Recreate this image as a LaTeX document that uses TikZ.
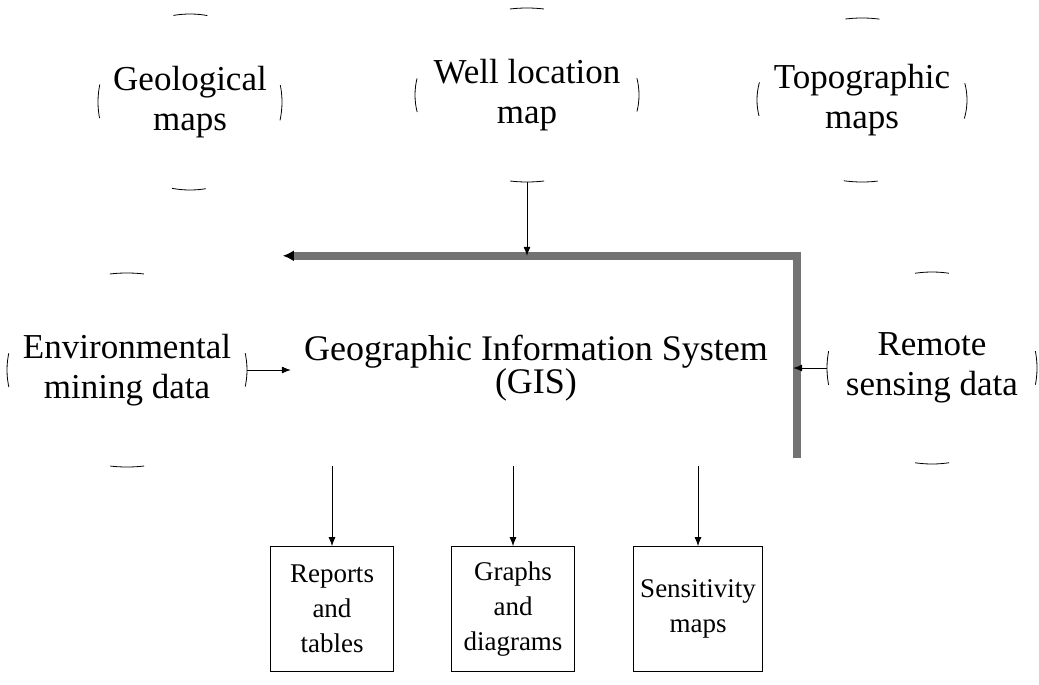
\documentclass[tikz,border=0pt]{standalone}
\usepackage{fontspec}
\setmainfont{Liberation Serif}
\usetikzlibrary{shapes.geometric,arrows.meta}

\tikzset{
    blob/.style={ellipse, draw, line width=0.8pt, align=center, inner xsep=-30pt, inner ysep=0pt, dash phase=17pt, font=\fontsize{35}{40}\selectfont},
    outbox/.style={rectangle, draw, line width=0.8pt, align=center, inner sep=2pt, minimum height=125pt, font=\fontsize{27}{35}\selectfont},
    frame/.style={draw=black!55, line width=8pt},
    feed/.style={-{Latex[length=9pt,width=7pt]}, line width=0.8pt},
}

\begin{document}
\begin{tikzpicture}[x=1pt,y=-1pt]
    \useasboundingbox (0,0) rectangle (1039,685);
    % sources
    \node[blob, minimum width=184pt, minimum height=176pt, dash pattern=on 34pt off 107pt] (geo) at (190,102) {Geological\\maps};
    \node[blob, minimum width=224pt, minimum height=174pt, dash pattern=on 34pt off 123pt] (well) at (527,95) {Well location\\map};
    \node[blob, minimum width=210pt, minimum height=164pt, dash pattern=on 34pt off 113pt] (topo) at (862,100) {Topographic\\maps};
    \node[blob, minimum width=240pt, minimum height=194pt, dash pattern=on 34pt off 137pt] (env) at (127,370) {Environmental\\mining data};
    \node[blob, minimum width=210pt, minimum height=192pt, dash pattern=on 34pt off 124pt] (rem) at (932,368) {Remote\\sensing data};
    % the GIS in the middle
    \node[minimum width=514pt, minimum height=202pt, inner sep=0pt] (gisbox) at (540,357) {};
    \node[align=center, font=\fontsize{36}{33}\selectfont] (gis) at (536,368) {Geographic Information System\\(GIS)};
    \draw[frame, {Latex[black,length=11pt,width=11pt]}-] (gisbox.north west) -- (gisbox.north east) -- (gisbox.south east);
    % products
    \node[outbox, minimum width=123pt] (rep) at (332,609) {Reports\\and\\tables};
    \node[outbox, minimum width=123pt] (gra) at (513,609) {Graphs\\and\\diagrams};
    \node[outbox, minimum width=129pt] (sen) at (698,609) {Sensitivity\\maps};
    % arrows
    \draw[feed] (well.south) -- (well.south |- gisbox.north);
    \draw[feed, shorten >=-8pt] (env.east) -- (env.east -| gisbox.west);
    \draw[feed, shorten >=-4pt] (rem.west) -- (rem.west -| gisbox.east);
    \foreach \out in {rep,gra,sen}
        \draw[feed] (\out.north |- gisbox.south) ++(0,8) -- (\out.north);
\end{tikzpicture}
\end{document}
